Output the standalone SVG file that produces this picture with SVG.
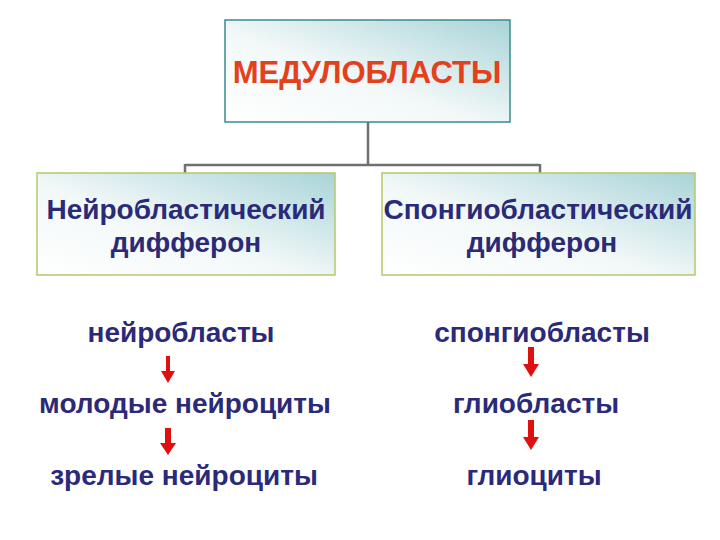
<svg xmlns="http://www.w3.org/2000/svg" width="720" height="540" viewBox="0 0 720 540">
<defs>
<linearGradient id="g" x1="0" y1="1" x2="1" y2="0">
<stop offset="0" stop-color="#ffffff"/>
<stop offset="0.45" stop-color="#f2f8f8"/>
<stop offset="1" stop-color="#a9d4d8"/>
</linearGradient>
</defs>
<style>
.t{font-family:"Liberation Sans",Arial,sans-serif;font-weight:bold;fill:#2b2a78;font-size:28px;text-anchor:middle}
.conn{fill:none;stroke:#707070;stroke-width:2.5}
.arr{fill:#e01010}
</style>
<rect width="720" height="540" fill="#ffffff"/>
<g id="connectors">
<path class="conn" d="M368,122 V165 M185,165 H540 M185,164 V174 M540,164 V174"/>
<g id="arrows">
<path class="arr" d="M166,356 H170 V371 H175 L168,383 L161,371 H166 Z"/>
<path class="arr" d="M165,428 H171 V443 H176 L168,455 L160,443 H165 Z"/>
<path class="arr" d="M528,347 H534 V364 H539 L531,377 L523,364 H528 Z"/>
<path class="arr" d="M528,420 H534 V437 H539 L531,450 L523,437 H528 Z"/>
</g>
</g>
<g id="medulloblasts">
<rect x="225" y="20" width="285" height="102" fill="url(#g)" stroke="#3a8c8c" stroke-width="1.5"/>
<text x="367" y="83" font-family="Liberation Sans,Arial,sans-serif" font-weight="bold" font-size="31" fill="#e3401c" text-anchor="middle">МЕДУЛОБЛАСТЫ</text>
</g>
<g id="neuro">
<rect x="37" y="173" width="298" height="102" fill="url(#g)" stroke="#b5c96a" stroke-width="1.5"/>
<text class="t" x="186" y="219">Нейробластический</text>
<text class="t" x="186" y="252">дифферон</text>
</g>
<g id="spongio">
<rect x="382" y="173" width="313" height="102" fill="url(#g)" stroke="#b5c96a" stroke-width="1.5"/>
<text class="t" x="538" y="219">Спонгиобластический</text>
<text class="t" x="542" y="252">дифферон</text>
</g>
<g id="n1"><text class="t" x="181" y="342">нейробласты</text></g>
<g id="n2"><text class="t" x="185" y="413">молодые нейроциты</text></g>
<g id="n3"><text class="t" x="184" y="485">зрелые нейроциты</text></g>
<g id="s1"><text class="t" x="542" y="342">спонгиобласты</text></g>
<g id="s2"><text class="t" x="536" y="413">глиобласты</text></g>
<g id="s3"><text class="t" x="534" y="485">глиоциты</text></g>
</svg>
